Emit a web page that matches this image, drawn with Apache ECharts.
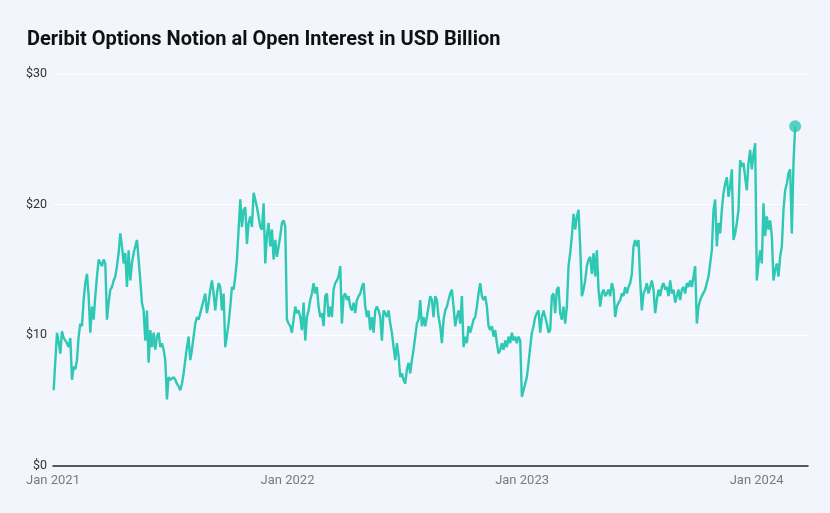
<!DOCTYPE html>
<html>
<head>
<meta charset="utf-8">
<script src="https://cdn.jsdelivr.net/npm/echarts@6/dist/echarts.min.js"></script>
<style>
html,body{margin:0;padding:0;background:#f2f5fb;}
#chart{width:830px;height:513px;}
</style>
</head>
<body>
<div id="chart"></div>
<script>
// ---- Data (USD billion, sampled evenly between first and last date) ----
const chartTitle = 'Deribit Options Notion al Open Interest in USD Billion';
const firstDate = [2021, 0, 2];   // 2 Jan 2021
const lastDate  = [2024, 2, 1];   // 1 Mar 2024
const yTickValues = [0, 10, 20, 30];
const monthNames = ['Jan','Feb','Mar','Apr','May','Jun','Jul','Aug','Sep','Oct','Nov','Dec'];

const oi2021a = [5.8, 8.0, 10.2, 9.5, 8.6, 10.3, 9.8, 9.9, 9.4, 9.1, 9.8, 6.6, 7.6, 7.4, 8.1, 9.9, 10.9, 10.7, 12.7, 14.0, 14.7, 13.0, 10.2, 12.2, 11.2, 13.0, 14.5, 15.8, 15.9, 15.3, 15.8, 15.5, 11.2, 12.5, 13.5, 13.7, 14.2, 14.5, 15.3, 16.3, 17.8, 16.8, 15.5, 16.3, 13.7, 16.5, 14.2, 15.5, 16.3, 16.8, 17.3, 15.8, 14.2, 12.5, 11.9, 9.6, 11.9, 7.9, 10.4, 9.1, 10.2, 8.9, 9.9, 10.2, 9.1, 9.4, 8.9, 8.1, 5.1, 6.8, 6.6, 6.7, 6.8];
const oi2021b = [6.6, 6.3, 6.1, 5.8, 6.3, 7.1, 8.1, 9.1, 9.9, 8.1, 8.9, 9.9, 10.9, 11.4, 11.2, 11.7, 12.2, 12.7, 13.2, 11.7, 12.5, 13.5, 14.2, 13.2, 11.9, 13.2, 14.0, 13.7, 11.9, 13.2, 9.1, 9.1, 10.9, 12.2, 13.7, 13.5, 14.5, 15.8, 18.1, 20.4, 18.3, 19.6, 19.8, 17.0, 18.6, 19.1, 18.3, 20.9, 20.4, 19.8, 19.1, 18.3, 18.1, 20.1, 15.5, 17.6, 18.6, 16.8, 18.1, 15.8, 17.3, 16.0, 16.8, 17.6, 18.6, 18.8, 18.3, 11.2, 10.9, 10.7, 10.2, 11.2, 12.2, 11.7, 11.9];
const oi2022a = [11.4, 10.4, 12.5, 9.6, 11.4, 11.9, 12.7, 13.2, 14.0, 13.2, 13.7, 12.2, 11.4, 11.7, 10.7, 13.0, 13.2, 11.4, 12.2, 11.4, 13.5, 14.0, 14.2, 14.5, 15.3, 10.9, 13.0, 13.2, 12.7, 13.0, 12.2, 11.9, 12.5, 11.7, 12.7, 13.0, 13.2, 13.7, 14.0, 12.2, 11.4, 11.9, 10.4, 11.4, 10.2, 11.9, 12.2, 11.9, 11.4, 9.6, 11.9, 11.7, 11.4, 11.9, 10.9, 10.2, 9.1, 8.1, 9.4, 8.4, 6.8, 7.1, 6.6, 6.3, 7.4, 7.9, 7.1, 8.1, 8.9, 9.9, 10.9, 11.2, 12.7, 10.7, 11.4];
const oi2022b = [10.7, 11.4, 12.2, 13.0, 12.7, 11.4, 13.0, 12.7, 11.4, 10.7, 9.4, 11.2, 11.9, 12.2, 12.7, 13.2, 13.5, 12.2, 10.7, 11.4, 11.9, 10.9, 13.0, 9.1, 9.9, 9.4, 10.7, 10.2, 10.7, 11.2, 11.4, 12.2, 13.2, 14.0, 13.0, 12.7, 13.0, 12.2, 10.7, 10.4, 10.7, 9.9, 10.4, 9.4, 8.6, 8.9, 9.4, 8.9, 9.6, 9.1, 9.9, 9.4, 10.2, 9.6, 9.9, 9.4, 9.9, 9.6, 5.3, 5.8, 6.3, 6.8, 7.9, 9.1, 10.2, 10.7, 11.4, 11.7, 11.9, 10.2, 11.4, 11.9, 11.4, 10.9, 10.2];
const oi2023a = [10.4, 13.0, 13.2, 11.7, 13.5, 13.7, 11.7, 11.2, 12.2, 10.9, 12.2, 15.3, 16.3, 17.6, 19.3, 18.1, 19.1, 19.6, 16.8, 13.0, 13.5, 14.2, 15.3, 15.8, 16.0, 14.7, 16.3, 14.5, 16.5, 13.5, 12.2, 13.2, 13.5, 13.0, 13.2, 13.5, 13.0, 14.0, 13.5, 11.4, 12.2, 12.5, 12.7, 13.2, 13.0, 13.7, 13.2, 13.7, 14.0, 14.7, 16.8, 17.3, 16.8, 17.3, 14.2, 11.9, 13.2, 13.5, 14.0, 13.2, 13.7, 14.2, 13.5, 11.7, 12.7, 13.5, 13.0, 13.7, 14.0, 13.5, 13.7, 13.0, 14.2, 13.2, 13.5];
const oi2023b = [12.5, 13.0, 13.5, 12.7, 13.5, 13.7, 13.2, 14.0, 13.7, 14.2, 13.7, 14.5, 15.3, 10.9, 12.2, 12.7, 13.0, 13.0, 13.5, 13.5, 14.5, 15.5, 16.5, 19.6, 20.4, 16.8, 18.6, 17.8, 19.6, 20.9, 21.6, 22.1, 20.6, 21.4, 22.7, 17.3, 17.8, 18.6, 19.6, 23.4, 22.9, 23.2, 22.1, 21.1, 23.2, 24.2, 22.7, 23.9, 24.7, 14.2, 15.5, 16.5, 15.5, 20.1, 17.6, 19.1, 18.1, 18.8, 17.6, 14.2, 15.0, 15.5, 14.5, 16.0, 16.8, 19.6, 21.1, 21.6, 22.4, 22.7, 17.8, 23.2, 26.0];

// ---- Build series ----
const values = [].concat(oi2021a, oi2021b, oi2022a, oi2022b, oi2023a, oi2023b);
const t0 = new Date(firstDate[0], firstDate[1], firstDate[2]).getTime();
const t1 = new Date(lastDate[0], lastDate[1], lastDate[2]).getTime();
const step = (t1 - t0) / (values.length - 1);
const seriesData = values.map((v, i) => [t0 + i * step, v]);
const lastPoint = seriesData[seriesData.length - 1];

const teal = '#2ec8b4';
const chart = echarts.init(document.getElementById('chart'), null, {renderer: 'canvas'});
chart.setOption({
  backgroundColor: '#f2f5fb',
  animation: false,
  title: {
    text: chartTitle,
    left: 22, top: 25,
    textStyle: {fontFamily: 'Roboto', fontSize: 20, fontWeight: 'bold', color: '#111'}
  },
  grid: {left: 53, right: 22, top: 74, bottom: 47},
  xAxis: {
    type: 'time',
    min: new Date(2021, 0, 1).getTime(),
    max: new Date(2024, 2, 21).getTime(),
    minInterval: 365 * 24 * 3600 * 1000,
    maxInterval: 366 * 24 * 3600 * 1000,
    axisLine: {show: true, lineStyle: {color: '#222', width: 1.5}},
    axisTick: {show: false},
    splitLine: {show: false},
    axisLabel: {
      color: '#7a7a7a', fontFamily: 'Roboto', fontSize: 13, margin: 8,
      showMinLabel: true,
      formatter: function (val) {
        const d = new Date(val);
        if (d.getMonth() !== 0 || d.getDate() !== 1) return '';
        return monthNames[d.getMonth()] + ' ' + d.getFullYear();
      }
    }
  },
  yAxis: {
    type: 'value',
    min: yTickValues[0], max: yTickValues[yTickValues.length - 1], interval: 10,
    axisLine: {show: false},
    axisTick: {show: false},
    splitLine: {show: true, lineStyle: {color: '#ffffff', width: 1}},
    axisLabel: {
      color: '#333', fontFamily: 'Roboto', fontSize: 12.5, margin: 6,
      formatter: v => '$' + v
    }
  },
  series: [
    {
      type: 'line',
      data: seriesData,
      showSymbol: false,
      smooth: false,
      sampling: null,
      lineStyle: {color: teal, width: 2.4},
      itemStyle: {color: teal},
      z: 2
    },
    {
      type: 'scatter',
      data: [lastPoint],
      symbolSize: 12,
      itemStyle: {color: teal},
      z: 3
    }
  ]
});
</script>
</body>
</html>
